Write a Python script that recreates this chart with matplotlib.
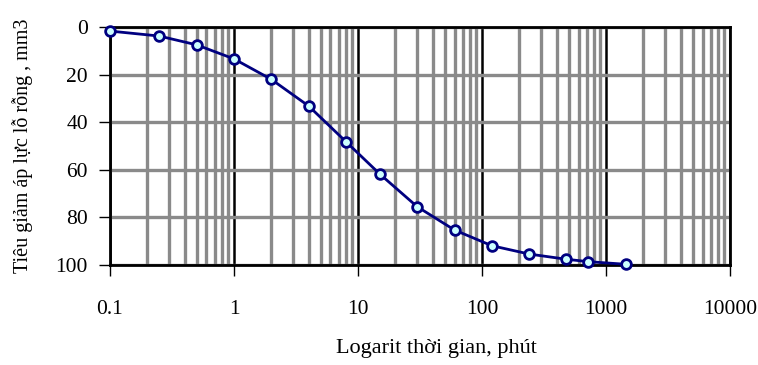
import matplotlib.pyplot as plt
import matplotlib.ticker as mticker
import numpy as np

plt.rcParams['font.family'] = ['Liberation Serif', 'DejaVu Serif']

# thoi gian (phut) va tieu giam ap luc lo rong
t = [0.1, 0.25, 0.5, 1, 2, 4, 8, 15, 30, 60, 120, 240, 480, 720, 1440]
u = [1.7, 3.8, 7.5, 13.4, 22, 33.2, 48.2, 61.8, 75.5, 85.3, 91.9, 95.4, 97.6, 98.6, 99.7]
xticks = [0.1, 1, 10, 100, 1000, 10000]
xlabels = ['0.1', '1', '10', '100', '1000', '10000']
yticks = [0, 20, 40, 60, 80, 100]

fig = plt.figure(figsize=(7.58, 3.65), dpi=100)
ax = fig.add_axes([0.1451, 0.274, 0.818, 0.652])

ax.set_xscale('log')
ax.set_xlim(0.1, 10000)
ax.set_ylim(100, 0)

# luoi phu mau xam
ax.xaxis.set_minor_locator(mticker.LogLocator(base=10, subs=np.arange(2, 10)))
ax.xaxis.set_minor_formatter(mticker.NullFormatter())
ax.grid(True, which='minor', axis='x', color='#8a8a8a', lw=2.4, zorder=1)
ax.grid(True, which='major', axis='y', color='#8a8a8a', lw=2.4, zorder=1)
ax.grid(True, which='major', axis='x', color='black', lw=1.8, zorder=2)
ax.set_axisbelow(True)

ax.plot(t, u, color='#000080', lw=2, marker='o', ms=7,
        markerfacecolor='#ccffff', markeredgecolor='#000080', mew=2,
        zorder=5, clip_on=False)

ax.set_xticks(xticks)
ax.set_xticklabels(xlabels)
ax.set_yticks(yticks)
ax.tick_params(axis='x', which='major', direction='out', length=8, width=1,
               pad=17, labelsize=15.5)
ax.tick_params(axis='x', which='minor', length=0)
ax.tick_params(axis='y', direction='out', length=8, width=1, pad=8, labelsize=15.5)

for s in ax.spines.values():
    s.set_linewidth(2)
    s.set_color('black')

ax.set_xlabel('Logarit thời gian, phút', fontsize=16)
ax.xaxis.set_label_coords(0.526, -0.31)
ax.set_ylabel('Tiêu giảm áp lực lỗ rỗng , mm3', fontsize=14.5, labelpad=16)

fig.savefig('out.png', dpi=100)
